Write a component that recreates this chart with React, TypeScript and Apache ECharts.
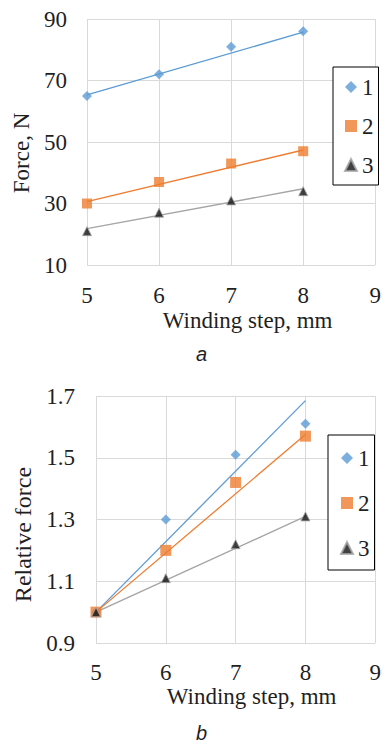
import React, { useEffect, useRef } from "react";
import * as echarts from "echarts";

const steps = [5, 6, 7, 8];
// Chart a: force, N
const forceA1 = [65, 72, 81, 86];
const forceA2 = [30, 37, 43, 47];
const forceA3 = [21, 27, 31, 34];
const trendA1 = [65.3, 85.7];
const trendA2 = [30.6, 47.4];
const trendA3 = [21.8, 34.8];
// Chart b: relative force
const relB1 = [1.0, 1.3, 1.51, 1.61];
const relB2 = [1.0, 1.2, 1.42, 1.57];
const relB3 = [1.0, 1.11, 1.22, 1.31];
const trendB1 = [1.0, 1.685];
const trendB2 = [1.0, 1.575];
const trendB3 = [1.0, 1.31];
const trendX = [5, 8];
const seriesNames = ["1", "2", "3"];

const BLUE = "#5B9BD5";
const ORANGE = "#ED7D31";
const GRAY = "#A5A5A5";
const SERIF = "'Liberation Serif', 'Times New Roman', serif";
const TXT = "#1f1f1f";
const GRID = "#D9D9D9";

const pts = (ys: number[]) => steps.map((x, i) => [x, ys[i]]);
const tpts = (ys: number[]) => trendX.map((x, i) => [x, ys[i]]);

export default function App() {
  const ref = useRef<HTMLDivElement>(null);
  useEffect(() => {
    document.body.style.margin = "0";
    if (!ref.current) return;
    const chart = echarts.init(ref.current, null, { renderer: "svg" });
    const axisLabel = { fontFamily: SERIF, fontSize: 23, color: TXT };
    const split = { show: true, lineStyle: { color: GRID, width: 1 } };
    const xAxisBase = {
      type: "value" as const,
      min: 5,
      max: 9,
      interval: 1,
      axisLine: { show: false },
      axisTick: { show: false },
      splitLine: split,
      name: "Winding step, mm",
      nameLocation: "middle" as const,
    };
    const nameStyle = { fontFamily: SERIF, fontSize: 23, color: TXT };
    const yBase = {
      type: "value" as const,
      axisLine: { show: false },
      axisTick: { show: false },
      splitLine: split,
      nameLocation: "middle" as const,
    };
    const scatter = (name: string, data: number[][], idx: number, sym: string, color: string, size: number, border?: string) => ({
      type: "scatter" as const,
      name,
      xAxisIndex: idx,
      yAxisIndex: idx,
      data,
      symbol: sym,
      symbolSize: size,
      itemStyle: border ? { color, borderColor: border, borderWidth: 1 } : { color },
      z: 3,
    });
    const trend = (name: string, data: number[][], idx: number, color: string) => ({
      type: "line" as const,
      name,
      xAxisIndex: idx,
      yAxisIndex: idx,
      data,
      symbol: "none",
      lineStyle: { color, width: 1.3 },
      z: 2,
      silent: true,
    });
    const legendBase = {
      orient: "vertical" as const,
      data: seriesNames,
      itemWidth: 12,
      itemHeight: 12,
      borderColor: "#000",
      borderWidth: 1,
      backgroundColor: "#fff",
      textStyle: { fontFamily: SERIF, fontSize: 23, color: TXT, lineHeight: 24 },
    };
    chart.setOption({
      animation: false,
      backgroundColor: "#fff",
      textStyle: { fontFamily: SERIF },
      grid: [
        { left: 87, right: 4, top: 19, height: 246 },
        { left: 96, right: 6, top: 396, height: 247 },
      ],
      xAxis: [
        {
          ...xAxisBase,
          gridIndex: 0,
          axisLabel: { ...axisLabel, margin: 19 },
          nameGap: 44,
          nameTextStyle: { ...nameStyle, padding: [0, 0, 0, 33] },
        },
        {
          ...xAxisBase,
          gridIndex: 1,
          axisLabel: { ...axisLabel, margin: 18 },
          nameGap: 41,
          nameTextStyle: { ...nameStyle, padding: [0, 0, 0, 32] },
        },
      ],
      yAxis: [
        {
          ...yBase,
          gridIndex: 0,
          min: 10,
          max: 90,
          interval: 20,
          axisLabel: { ...axisLabel, margin: 20 },
          name: "Force, N",
          nameGap: 49,
          nameTextStyle: { ...nameStyle, padding: [0, 22, 0, 0] },
        },
        {
          ...yBase,
          gridIndex: 1,
          min: 0.9,
          max: 1.7,
          interval: 0.2,
          axisLabel: { ...axisLabel, margin: 21, formatter: (v: number) => v.toFixed(1) },
          name: "Relative force",
          nameGap: 56,
          nameTextStyle: { ...nameStyle, fontSize: 24, padding: [0, 30, 0, 0] },
        },
      ],
      legend: [
        { ...legendBase, left: 333, top: 67, padding: [8, 5, 8, 11], itemGap: 15 },
        { ...legendBase, left: 328, top: 435, padding: [11, 5, 10, 12], itemGap: 21 },
      ],
      graphic: [
        {
          type: "text",
          left: 196,
          top: 344,
          style: { text: "a", fontFamily: "Liberation Sans", fontStyle: "italic", fontSize: 20, fill: TXT },
        },
        {
          type: "text",
          left: 196,
          top: 723,
          style: { text: "b", fontFamily: "Liberation Sans", fontStyle: "italic", fontSize: 20, fill: TXT },
        },
      ],
      series: [
        trend("trend 1a", tpts(trendA1), 0, BLUE),
        trend("trend 2a", tpts(trendA2), 0, ORANGE),
        trend("trend 3a", tpts(trendA3), 0, GRAY),
        scatter(seriesNames[0], pts(forceA1), 0, "diamond", BLUE, 10),
        scatter(seriesNames[1], pts(forceA2), 0, "rect", ORANGE, 10),
        scatter(seriesNames[2], pts(forceA3), 0, "triangle", "#111", 9, GRAY),
        trend("trend 1b", tpts(trendB1), 1, BLUE),
        trend("trend 2b", tpts(trendB2), 1, ORANGE),
        trend("trend 3b", tpts(trendB3), 1, GRAY),
        scatter(seriesNames[0], pts(relB1), 1, "diamond", BLUE, 10),
        scatter(seriesNames[1], pts(relB2), 1, "rect", ORANGE, 11),
        scatter(seriesNames[2], pts(relB3), 1, "triangle", "#111", 9, GRAY),
      ],
    });
    return () => chart.dispose();
  }, []);
  return <div ref={ref} style={{ width: 384, height: 746 }} />;
}
